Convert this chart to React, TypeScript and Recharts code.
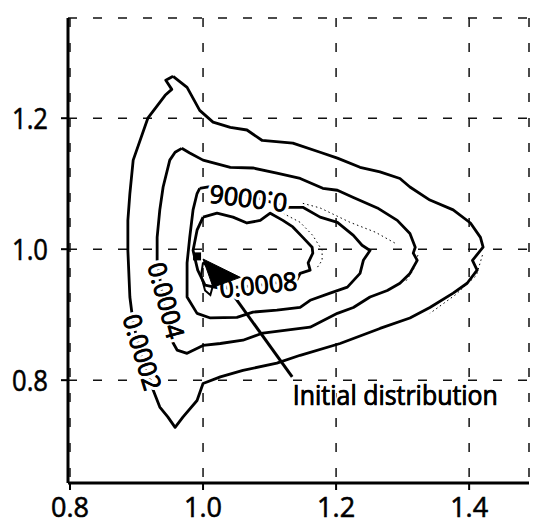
import React from 'react';
import { ComposedChart, Scatter, XAxis, YAxis, CartesianGrid, ReferenceLine } from 'recharts';

const xTicks = [0.8, 1.0, 1.2, 1.4];
const yTicks = [0.8, 1.0, 1.2];
const xDomain: [number, number] = [0.797, 1.49];
const yDomain: [number, number] = [0.643, 1.353];

type P = { x: number; y: number };

const contour0002: P[] = [
  { x: 0.955, y: 1.264 }, { x: 0.976, y: 1.247 }, { x: 0.995, y: 1.212 }, { x: 1.015, y: 1.194 },
  { x: 1.041, y: 1.186 }, { x: 1.066, y: 1.182 }, { x: 1.089, y: 1.166 }, { x: 1.135, y: 1.162 },
  { x: 1.176, y: 1.148 }, { x: 1.202, y: 1.139 }, { x: 1.236, y: 1.125 }, { x: 1.266, y: 1.118 },
  { x: 1.296, y: 1.108 }, { x: 1.311, y: 1.095 }, { x: 1.341, y: 1.075 }, { x: 1.376, y: 1.06 },
  { x: 1.402, y: 1.04 }, { x: 1.417, y: 1.018 }, { x: 1.421, y: 1.003 }, { x: 1.405, y: 0.983 },
  { x: 1.412, y: 0.968 }, { x: 1.397, y: 0.948 }, { x: 1.376, y: 0.933 }, { x: 1.341, y: 0.911 },
  { x: 1.311, y: 0.895 }, { x: 1.266, y: 0.879 }, { x: 1.206, y: 0.856 }, { x: 1.146, y: 0.838 },
  { x: 1.111, y: 0.826 }, { x: 1.06, y: 0.815 }, { x: 1.026, y: 0.805 }, { x: 1.0, y: 0.795 },
  { x: 0.991, y: 0.769 }, { x: 0.97, y: 0.744 }, { x: 0.958, y: 0.728 }, { x: 0.947, y: 0.744 },
  { x: 0.935, y: 0.759 }, { x: 0.925, y: 0.785 }, { x: 0.91, y: 0.826 }, { x: 0.895, y: 0.887 },
  { x: 0.89, y: 0.927 }, { x: 0.887, y: 0.998 }, { x: 0.887, y: 1.044 }, { x: 0.89, y: 1.085 },
  { x: 0.895, y: 1.136 }, { x: 0.917, y: 1.2 }, { x: 0.943, y: 1.235 }, { x: 0.953, y: 1.244 },
  { x: 0.944, y: 1.258 },
];

const contour0004: P[] = [
  { x: 0.968, y: 1.154 }, { x: 0.98, y: 1.147 }, { x: 1.0, y: 1.136 }, { x: 1.041, y: 1.125 },
  { x: 1.075, y: 1.124 }, { x: 1.111, y: 1.116 }, { x: 1.146, y: 1.108 }, { x: 1.18, y: 1.093 },
  { x: 1.202, y: 1.09 }, { x: 1.226, y: 1.079 }, { x: 1.262, y: 1.063 }, { x: 1.292, y: 1.044 },
  { x: 1.311, y: 1.024 }, { x: 1.319, y: 1.003 }, { x: 1.316, y: 0.994 }, { x: 1.322, y: 0.983 },
  { x: 1.311, y: 0.963 }, { x: 1.296, y: 0.948 }, { x: 1.277, y: 0.937 }, { x: 1.251, y: 0.927 },
  { x: 1.226, y: 0.911 }, { x: 1.202, y: 0.902 }, { x: 1.161, y: 0.881 }, { x: 1.09, y: 0.872 },
  { x: 1.06, y: 0.861 }, { x: 1.026, y: 0.856 }, { x: 1.0, y: 0.853 }, { x: 0.976, y: 0.841 },
  { x: 0.961, y: 0.846 }, { x: 0.95, y: 0.866 }, { x: 0.94, y: 0.922 }, { x: 0.931, y: 0.983 },
  { x: 0.931, y: 1.018 }, { x: 0.935, y: 1.06 }, { x: 0.94, y: 1.095 }, { x: 0.95, y: 1.136 },
  { x: 0.958, y: 1.148 },
];

const contour0006: P[] = [
  { x: 0.995, y: 1.093 }, { x: 1.008, y: 1.095 }, { x: 1.071, y: 1.082 }, { x: 1.126, y: 1.064 },
  { x: 1.15, y: 1.064 }, { x: 1.176, y: 1.049 }, { x: 1.202, y: 1.041 }, { x: 1.226, y: 1.021 },
  { x: 1.239, y: 1.006 }, { x: 1.251, y: 0.998 }, { x: 1.241, y: 0.983 }, { x: 1.236, y: 0.963 },
  { x: 1.217, y: 0.942 }, { x: 1.191, y: 0.933 }, { x: 1.161, y: 0.922 }, { x: 1.146, y: 0.911 },
  { x: 1.111, y: 0.907 }, { x: 1.075, y: 0.904 }, { x: 1.051, y: 0.896 }, { x: 1.011, y: 0.895 },
  { x: 0.991, y: 0.902 }, { x: 0.976, y: 0.927 }, { x: 0.976, y: 0.979 }, { x: 0.98, y: 1.018 },
  { x: 0.985, y: 1.06 }, { x: 0.991, y: 1.085 },
];

const contour0008: P[] = [
  { x: 1.0, y: 1.049 }, { x: 1.021, y: 1.055 }, { x: 1.045, y: 1.049 }, { x: 1.066, y: 1.04 },
  { x: 1.086, y: 1.044 }, { x: 1.101, y: 1.055 }, { x: 1.12, y: 1.044 }, { x: 1.135, y: 1.034 },
  { x: 1.15, y: 1.018 }, { x: 1.164, y: 1.003 }, { x: 1.165, y: 0.994 }, { x: 1.158, y: 0.979 },
  { x: 1.161, y: 0.968 }, { x: 1.146, y: 0.963 }, { x: 1.141, y: 0.953 }, { x: 1.086, y: 0.945 },
  { x: 1.026, y: 0.94 }, { x: 1.003, y: 0.945 }, { x: 0.992, y: 0.968 }, { x: 0.985, y: 0.998 },
  { x: 0.991, y: 1.029 },
];

const smallLoop: P[] = [
  { x: 1.0, y: 0.98 }, { x: 1.011, y: 0.968 }, { x: 1.015, y: 0.945 }, { x: 1.011, y: 0.93 },
  { x: 1.003, y: 0.937 }, { x: 0.997, y: 0.96 },
];

const dottedA: P[] = [
  { x: 1.12, y: 1.055 }, { x: 1.146, y: 1.041 }, { x: 1.165, y: 1.021 }, { x: 1.179, y: 0.998 },
  { x: 1.179, y: 0.983 }, { x: 1.171, y: 0.971 },
];
const dottedB: P[] = [
  { x: 1.15, y: 1.07 }, { x: 1.176, y: 1.063 }, { x: 1.221, y: 1.041 }, { x: 1.259, y: 1.026 },
  { x: 1.289, y: 1.009 },
];
const dottedC: P[] = [
  { x: 1.42, y: 0.991 }, { x: 1.411, y: 0.96 }, { x: 1.379, y: 0.93 }, { x: 1.341, y: 0.902 },
];
const dottedD: P[] = [
  { x: 1.323, y: 0.991 }, { x: 1.316, y: 0.968 }, { x: 1.304, y: 0.95 },
];

const initialPoint: P[] = [{ x: 0.991, y: 0.989 }];
const arrowHead: P[] = [
  { x: 1.0, y: 0.985 }, { x: 1.056, y: 0.957 }, { x: 1.015, y: 0.942 }, { x: 1.0, y: 0.985 },
];
const arrowShaft = { x1: 1.134, y1: 0.805, x2: 1.029, y2: 0.953 };

const contourLabels = [
  { x: 0.91, y: 0.843, text: '0.0002' },
  { x: 0.946, y: 0.922, text: '0.0004' },
  { x: 1.068, y: 1.076, text: '0.0006' },
  { x: 1.083, y: 0.947, text: '0.0008' },
];
const labelAngles: Record<string, number> = {
  '0.0002': 73,
  '0.0004': 75,
  '0.0006': 187,
  '0.0008': -6,
};
const annotation = [{ x: 1.135, y: 0.762, text: 'Initial distribution' }];

const close = (pts: P[]) => [...pts, pts[0]];
const FONT = '"Open Sans", "DejaVu Sans", sans-serif';
const none = () => <g />;

const YTick = (props: any) => {
  const { x, y, payload } = props;
  return (
    <text x={x} y={y + 11} textAnchor="end" fontFamily={FONT} fontSize={30} fill="#000"
      stroke="#000" strokeWidth={0.6} textLength={36} lengthAdjust="spacingAndGlyphs">
      {payload.value.toFixed(1)}
    </text>
  );
};
const XTick = (props: any) => {
  const { x, y, payload } = props;
  return (
    <text x={x} y={y + 23} textAnchor="middle" fontFamily={FONT} fontSize={28} fill="#000"
      stroke="#000" strokeWidth={0.6} textLength={38} lengthAdjust="spacingAndGlyphs">
      {payload.value.toFixed(1)}
    </text>
  );
};

const LabelShape = (props: any) => {
  const { cx, cy, payload } = props;
  const a = labelAngles[payload.text] ?? 0;
  return (
    <g transform={`rotate(${a} ${cx} ${cy})`}>
      <text x={cx} y={cy} textAnchor="middle" dominantBaseline="central"
        fontFamily={FONT} fontSize={25} fill="#000" stroke="#fff" strokeWidth={7} paintOrder="stroke"
        textLength={78} lengthAdjust="spacingAndGlyphs">
        {payload.text}
      </text>
      <text x={cx} y={cy} textAnchor="middle" dominantBaseline="central"
        fontFamily={FONT} fontSize={25} fill="#000" stroke="#000" strokeWidth={0.8}
        textLength={78} lengthAdjust="spacingAndGlyphs">
        {payload.text}
      </text>
    </g>
  );
};

const AnnotationShape = (props: any) => {
  const { cx, cy, payload } = props;
  return (
    <g>
      <text x={cx} y={cy} textAnchor="start" fontFamily={FONT} fontSize={28} fill="#000"
        stroke="#fff" strokeWidth={4} paintOrder="stroke"
        textLength={205} lengthAdjust="spacingAndGlyphs">
        {payload.text}
      </text>
      <text x={cx} y={cy} textAnchor="start" fontFamily={FONT} fontSize={28} fill="#000"
        stroke="#000" strokeWidth={0.7} textLength={205} lengthAdjust="spacingAndGlyphs">
        {payload.text}
      </text>
    </g>
  );
};

const contourStyle = { stroke: '#000', strokeWidth: 2.8, strokeLinejoin: 'round' as const };
const dottedStyle = { stroke: '#000', strokeWidth: 1, strokeDasharray: '1.5 3' };
const frameLine = { stroke: '#000', strokeWidth: 3 };
const tickStyle = { stroke: '#000', strokeWidth: 2 };

export default function App() {
  return (
    <div style={{ position: 'fixed', left: 0, top: 0, width: 539, height: 526, background: '#fff' }}>
      <ComposedChart width={539} height={526} margin={{ top: 18, right: 10, bottom: 0, left: 0 }}>
        <CartesianGrid stroke="#111" strokeWidth={1.5} strokeDasharray="9 16" />
        <XAxis xAxisId={0} type="number" dataKey="x" domain={xDomain} ticks={xTicks} allowDataOverflow
          height={43} tickSize={7} tickMargin={4} axisLine={frameLine} tickLine={tickStyle}
          tick={XTick} />
        <XAxis xAxisId="top" orientation="top" type="number" dataKey="x" domain={xDomain} ticks={xTicks}
          allowDataOverflow height={0} tickSize={7} axisLine={frameLine} tickLine={tickStyle}
          tick={none} />
        <YAxis type="number" dataKey="y" domain={yDomain} ticks={yTicks} allowDataOverflow width={68}
          tickSize={7} tickMargin={13} axisLine={frameLine} tickLine={tickStyle}
          tick={YTick} />
        <YAxis yAxisId="right" orientation="right" type="number" domain={yDomain} ticks={yTicks}
          allowDataOverflow width={0} axisLine={frameLine} tickLine={false} tick={none} />

        <Scatter data={dottedA} line={dottedStyle} lineType="joint" shape={none} isAnimationActive={false} />
        <Scatter data={dottedB} line={dottedStyle} lineType="joint" shape={none} isAnimationActive={false} />
        <Scatter data={dottedC} line={dottedStyle} lineType="joint" shape={none} isAnimationActive={false} />
        <Scatter data={dottedD} line={dottedStyle} lineType="joint" shape={none} isAnimationActive={false} />

        <Scatter data={close(contour0002)} line={contourStyle} lineType="joint" shape={none} isAnimationActive={false} />
        <Scatter data={close(contour0004)} line={contourStyle} lineType="joint" shape={none} isAnimationActive={false} />
        <Scatter data={close(contour0006)} line={contourStyle} lineType="joint" shape={none} isAnimationActive={false} />
        <Scatter data={close(contour0008)} line={contourStyle} lineType="joint" shape={none} isAnimationActive={false} />
        <Scatter data={close(smallLoop)} line={{ stroke: '#000', strokeWidth: 2 }} lineType="joint" shape={none} isAnimationActive={false} />

        <Scatter data={contourLabels} shape={LabelShape} isAnimationActive={false} />

        <ReferenceLine segment={[{ x: arrowShaft.x1, y: arrowShaft.y1 }, { x: arrowShaft.x2, y: arrowShaft.y2 }]}
          stroke="#000" strokeWidth={3} ifOverflow="visible" />
        <Scatter data={arrowHead} line={{ stroke: '#000', strokeWidth: 1, fill: '#000' }} lineType="joint"
          shape={none} isAnimationActive={false} />
        <Scatter data={initialPoint} shape="square" size={130} fill="#000" isAnimationActive={false} />

        <Scatter data={annotation} shape={AnnotationShape} isAnimationActive={false} />
      </ComposedChart>
    </div>
  );
}
